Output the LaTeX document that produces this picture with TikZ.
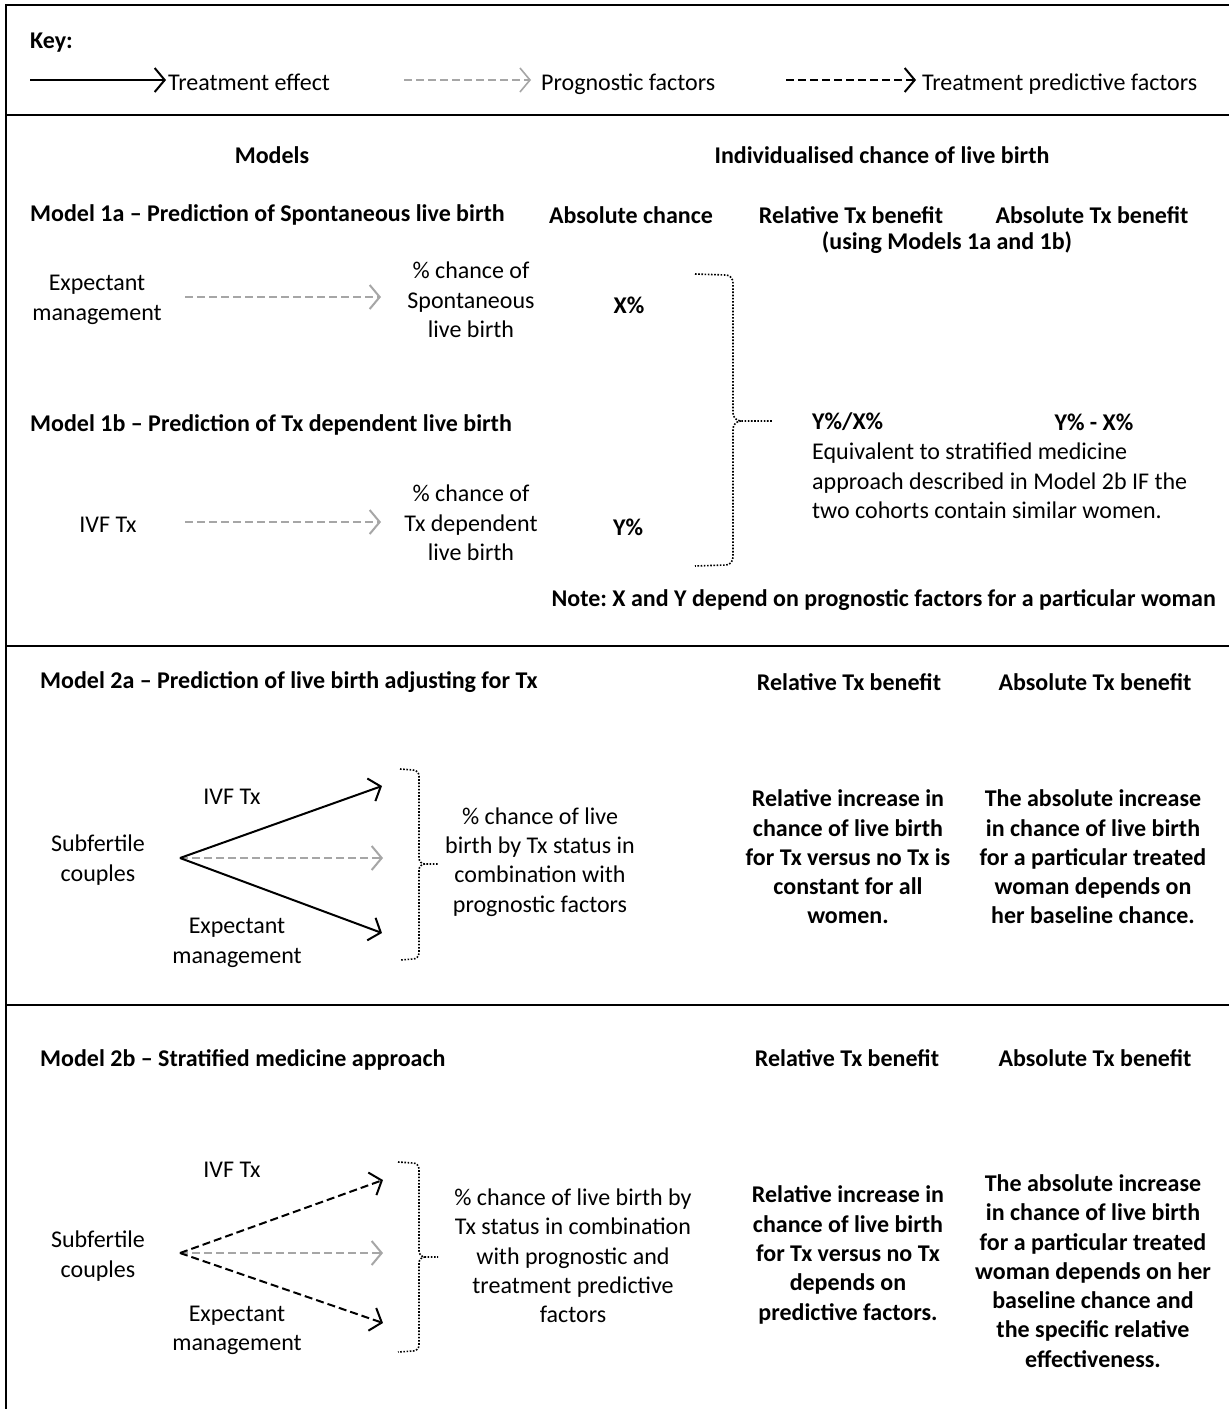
\documentclass[tikz,border=0pt]{standalone}
\usepackage{fontspec}
\setmainfont{Carlito}
\frenchspacing
\usetikzlibrary{arrows.meta}
\definecolor{pgray}{HTML}{A6A6A6}
\tikzset{
  t/.style={inner sep=0pt, align=center, font=\fontsize{24}{29.3}\selectfont},
  tb/.style={inner sep=0pt, align=center, font=\fontsize{24}{29.3}\selectfont\bfseries},
  tipa/.style={-{Straight Barb[length=10pt,width=24pt]}},
  fx/.style={draw=black, line width=2pt, tipa},
  prog/.style={draw=pgray, line width=2pt, dash pattern=on 8pt off 4pt, tipa},
  pred/.style={draw=black, line width=2pt, dash pattern=on 8pt off 4pt, tipa},
  frame/.style={line width=2.5pt},
  brace/.style={line width=1.6pt, dash pattern=on 1.6pt off 1.6pt},
}
\begin{document}
\begin{tikzpicture}[x=1pt,y=-1pt]
\useasboundingbox (0,0) rectangle (1229,1409);
\fill[white] (0,0) rectangle (1229,1409);
% frame
\draw[frame] (1229,5) -- (6,5) -- (6,1409);
\draw[frame] (6,115) -- (1229,115);
\draw[frame] (6,646) -- (1229,646);
\draw[frame] (6,1005) -- (1229,1005);

% key
\node[tb, anchor=base west] (key) at (30,48) {Key:};
\coordinate (k1a) at (30,80); \coordinate (k1b) at (166,80);
\draw[fx] (k1a) -- (k1b);
\node[t, anchor=base west] (k1t) at (168,90) {Treatment effect};
\coordinate (k2a) at (404,80); \coordinate (k2b) at (531,80);
\draw[prog, line width=1.6pt] (k2a) -- (k2b);
\node[t, anchor=base west] (k2t) at (541,90) {Prognostic factors};
\coordinate (k3a) at (786,80); \coordinate (k3b) at (916,80);
\draw[pred] (k3a) -- (k3b);
\node[t, anchor=base west] (k3t) at (922,90) {Treatment predictive factors};

% section 1
\node[tb] (models) at (272,155) {Models};
\node[tb] (indiv) at (882,155) {Individualised chance of live birth};
\node[tb, anchor=west] (m1a) at (30,215) {Model 1a -- Prediction of Spontaneous live birth};
\node[tb] (abs1) at (631,215) {Absolute chance};
\node[tb] (rel1) at (851,215) {Relative Tx benefit};
\node[tb] (rel1b) at (947,243) {(using Models 1a and 1b)};
\node[tb] (absb1) at (1092,215) {Absolute Tx benefit};
\node[t] (em1) at (97,300) {Expectant\\management};
\node[t] (sp1) at (471,300) {\% chance of\\Spontaneous\\live birth};
\node[tb] (x1) at (629,305) {X\%};
\coordinate (p1a) at (185,297); \coordinate (p1b) at (381,297);
\draw[prog] (p1a) -- (p1b);

\node[tb, anchor=west] (m1b) at (30,425) {Model 1b -- Prediction of Tx dependent live birth};
\node[tb, anchor=west] (yx) at (812,422) {Y\%/X\%};
\node[tb] (ymx) at (1094,422) {Y\% - X\%};
\node[t, align=left, anchor=north west] (equiv) at (812,443) {Equivalent to stratified medicine\\approach described in Model 2b IF the\\two cohorts contain similar women.};
\node[t] (ivf1) at (108,525) {IVF Tx};
\node[t] (tx1) at (471,523) {\% chance of\\Tx dependent\\live birth};
\node[tb] (y1) at (628,527) {Y\%};
\coordinate (p2a) at (185,522); \coordinate (p2b) at (381,522);
\draw[prog] (p2a) -- (p2b);

\coordinate (b1t) at (695,274); \coordinate (b1m) at (772,421); \coordinate (b1b) at (695,566);
\draw[brace] (b1t) -- (726,275) to[out=0,in=90] (733,283) -- (733,413) to[out=-90,in=180] (741,421) -- (b1m);
\draw[brace] (741,421) to[out=180,in=90] (733,429) -- (733,557) to[out=-90,in=0] (726,565) -- (b1b);

\node[tb, anchor=east] (note) at (1216,600) {Note: X and Y depend on prognostic factors for a particular woman};

% section 2a
\node[tb, anchor=west] (m2a) at (40,682) {Model 2a -- Prediction of live birth adjusting for Tx};
\node[tb] (rel2) at (849,682) {Relative Tx benefit};
\node[tb] (abs2) at (1095,682) {Absolute Tx benefit};
\node[t] (ivf2) at (232,797) {IVF Tx};
\node[t] (sub2) at (98,860) {Subfertile\\couples};
\node[t] (em2) at (237,943) {Expectant\\management};
\coordinate (o2) at (180,858);
\coordinate (u2) at (382,786); \coordinate (c2) at (383,858); \coordinate (l2) at (382,933);
\draw[prog] (o2) -- (c2);
\draw[fx] (o2) -- (u2);
\draw[fx] (o2) -- (l2);
\coordinate (b2t) at (400,769); \coordinate (b2m) at (438,864); \coordinate (b2b) at (400,960);
\draw[brace] (b2t) -- (413,770) to[out=0,in=90] (419,776) -- (419,858) to[out=-90,in=180] (425,864) -- (b2m);
\draw[brace] (425,864) to[out=180,in=90] (419,870) -- (419,953) to[out=-90,in=0] (413,959) -- (b2b);
\node[t] (pc2) at (540,862) {\% chance of live\\birth by Tx status in\\combination with\\prognostic factors};
\node[tb] (ri2) at (848,857) {Relative increase in\\chance of live birth\\for Tx versus no Tx is\\constant for all\\women.};
\node[tb] (ai2) at (1093,857) {The absolute increase\\in chance of live birth\\for a particular treated\\woman depends on\\her baseline chance.};

% section 2b
\node[tb, anchor=west] (m2b) at (40,1060) {Model 2b -- Stratified medicine approach};
\node[tb] (rel3) at (847,1058) {Relative Tx benefit};
\node[tb] (abs3) at (1095,1058) {Absolute Tx benefit};
\node[t] (ivf3) at (232,1170) {IVF Tx};
\node[t] (sub3) at (98,1256) {Subfertile\\couples};
\node[t] (em3) at (237,1330) {Expectant\\management};
\coordinate (o3) at (180,1253);
\coordinate (u3) at (383,1180); \coordinate (c3) at (383,1253); \coordinate (l3) at (383,1323);
\draw[prog] (o3) -- (c3);
\draw[pred] (o3) -- (u3);
\draw[pred] (o3) -- (l3);
\coordinate (b3t) at (398,1162); \coordinate (b3m) at (438,1257); \coordinate (b3b) at (398,1352);
\draw[brace] (b3t) -- (413,1163) to[out=0,in=90] (419,1169) -- (419,1251) to[out=-90,in=180] (425,1257) -- (b3m);
\draw[brace] (425,1257) to[out=180,in=90] (419,1263) -- (419,1345) to[out=-90,in=0] (413,1351) -- (b3b);
\node[t] (pc3) at (573,1256) {\% chance of live birth by\\Tx status in combination\\with prognostic and\\treatment predictive\\factors};
\node[tb] (ri3) at (848,1255) {Relative increase in\\chance of live birth\\for Tx versus no Tx\\depends on\\predictive factors.};
\node[tb] (ai3) at (1093,1271) {The absolute increase\\in chance of live birth\\for a particular treated\\woman depends on her\\baseline chance and\\the specific relative\\effectiveness.};
\end{tikzpicture}
\end{document}
